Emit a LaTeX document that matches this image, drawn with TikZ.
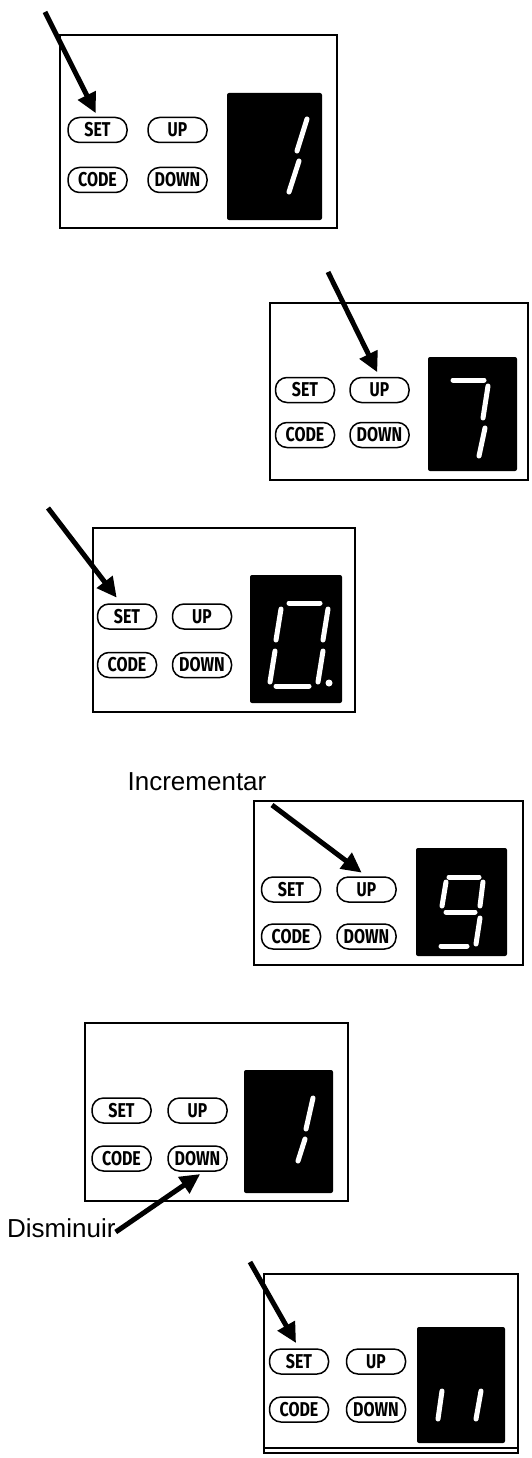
\documentclass[tikz,border=0pt]{standalone}
\usepackage{fontspec}
\usepackage{graphicx}
\setmainfont{Liberation Sans}
\newfontfamily\btnfont{Fira Sans}
\usetikzlibrary{arrows.meta,calc}
\newcommand\btxt[2]{\scalebox{#1}[1]{#2}}
\newcommand\kbtns[5]{%
  \node[btn] (set#1) at (#2,#4) {\btxt{0.8}{SET}};
  \node[btn] (up#1) at (#3,#4) {\btxt{0.78}{UP}};
  \node[btn] (code#1) at (#2,#5) {\btxt{0.8}{CODE}};
  \node[btn] (down#1) at (#3,#5) {\btxt{0.8}{DOWN}};
}
\newcommand\sg[4]{\draw[seg] (#1,#2) -- (#3,#4);}
\begin{document}
\begin{tikzpicture}[x=1pt,y=-1pt,
  panel/.style={draw=black,line width=1.8pt,fill=white},
  lcd/.style={fill=black,rounded corners=2pt},
  btn/.style={draw=black,line width=1.5pt,rounded corners=11.5pt,minimum width=59pt,minimum height=25pt,inner sep=0pt,font=\btnfont\bfseries\fontsize{20}{21}\selectfont},
  seg/.style={white,line width=5pt,line cap=round},
  pointer/.style={line width=5pt,-{Triangle[length=20pt,width=19pt]}},
  lbl/.style={font=\fontsize{26}{28}\selectfont,inner sep=0pt}]
\useasboundingbox (0,0) rectangle (531,1458);
\fill[white] (0,0) rectangle (531,1458);

% ---------- panel 1 ----------
\draw[panel] (60,35) rectangle (337,228);
\fill[lcd] (227,93) rectangle (322,220);
\kbtns{1}{97.5}{177.5}{130}{180}
\sg{307}{119}{297}{151}
\sg{299}{161}{289}{192}
\coordinate (a1) at (45,12);
\draw[pointer,shorten >=4pt] (a1) -- (set1.north);

% ---------- panel 2 ----------
\draw[panel] (270,303) rectangle (528,480);
\fill[lcd] (428,357) rectangle (517,471);
\kbtns{2}{305}{379.5}{390}{435}
\sg{453}{380}{484}{380}
\sg{488}{386}{483}{418}
\sg{485}{428}{479}{456}
\coordinate (a2) at (328,272);
\draw[pointer,shorten >=5pt] (a2) -- (up2.north);

% ---------- panel 3 ----------
\draw[panel] (93,528) rectangle (355,712);
\fill[lcd] (250,575) rectangle (342,703);
\kbtns{3}{127}{202}{616.5}{665}
\sg{289}{603}{320}{603}
\sg{281}{609}{276}{640}
\sg{328}{609}{323}{640}
\sg{275}{651}{270}{682}
\sg{323}{651}{318}{682}
\sg{276}{686}{309}{686}
\fill[white] (329,683) circle (3.5pt);
\coordinate (a3) at (48,508);
\draw[pointer,shorten >=7pt] (a3) -- ([xshift=-6pt]set3.north);

% ---------- panel 4 ----------
\node[lbl] (inc) at (197,782) {Incrementar};
\draw[panel] (254,801) rectangle (523,965);
\fill[lcd] (416,848) rectangle (507,956);
\kbtns{4}{291}{366.5}{889.5}{936.5}
\sg{449}{877}{479}{877}
\sg{446}{882}{442}{906}
\sg{483}{882}{480}{906}
\sg{446}{912}{475}{912}
\sg{480}{918}{476}{944}
\sg{441}{946}{467}{946}
\coordinate (a4) at (272,805);
\draw[pointer,shorten >=6pt] (a4) -- (up4.north);

% ---------- panel 5 ----------
\draw[panel] (85,1023) rectangle (348,1201);
\fill[lcd] (244,1070) rectangle (333,1193);
\kbtns{5}{121.5}{197.5}{1110.5}{1158.5}
\sg{313}{1098}{306}{1129}
\sg{305}{1139}{298}{1161}
\node[lbl,anchor=west] (dis) at (7,1228) {Disminuir};
\draw[pointer,shorten >=4pt] ([yshift=-4pt]dis.east) -- ([xshift=6pt]down5.south);

% ---------- panel 6 ----------
\draw[panel] (264,1274) rectangle (518,1453);
\draw[line width=1.2pt] (264,1448) -- (518,1448);
\fill[lcd] (417,1327) rectangle (505,1443);
\kbtns{6}{299}{376}{1361.5}{1409.5}
\sg{442}{1391}{438}{1419}
\sg{481}{1391}{476}{1419}
\coordinate (a6) at (250,1262);
\draw[pointer,shorten >=6pt] (a6) -- (set6.north);
\end{tikzpicture}
\end{document}
